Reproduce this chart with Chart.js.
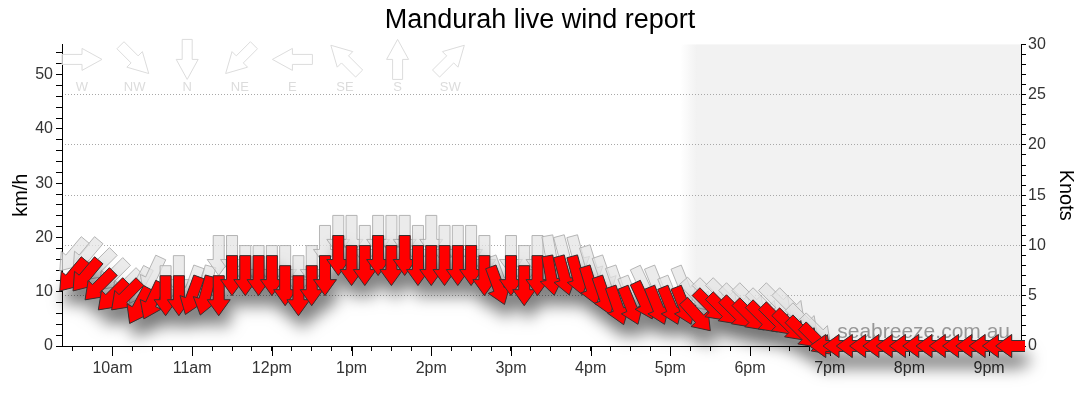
<!DOCTYPE html>
<html lang="en">
<head>
<meta charset="UTF-8">
<title>Mandurah live wind report</title>
<script src="https://cdn.jsdelivr.net/npm/chart.js"></script>
<style>
  html, body { margin: 0; padding: 0; background: #fff; }
  #wrap { width: 1080px; height: 414px; }
</style>
</head>
<body>
<div id="wrap"><canvas id="windChart"></canvas></div>
<script>
// readings every 10 minutes (local time)
const times = [
  '09:30','09:40','09:50','10:00','10:10','10:20','10:30','10:40','10:50','11:00','11:10','11:20',
  '11:30','11:40','11:50','12:00','12:10','12:20','12:30','12:40','12:50','13:00','13:10','13:20',
  '13:30','13:40','13:50','14:00','14:10','14:20','14:30','14:40','14:50','15:00','15:10','15:20',
  '15:30','15:40','15:50','16:00','16:10','16:20','16:30','16:40','16:50','17:00','17:10','17:20',
  '17:30','17:40','17:50','18:00','18:10','18:20','18:30','18:40','18:50','19:00','19:10','19:20',
  '19:30','19:40','19:50','20:00','20:10','20:20','20:30','20:40','20:50','21:00','21:10','21:20'
];
// wind speed, knots
const speeds = [
  7, 7, 6, 5, 5, 4, 4.5, 5, 5, 5, 5, 5,
  7, 7, 7, 7, 6, 5, 6, 7, 9, 8, 8, 9,
  8, 9, 8, 8, 8, 8, 8, 7, 6, 7, 6, 7,
  7, 7, 7, 6, 5, 4, 4, 4.5, 4, 4, 4, 3,
  4, 3.6, 3.3, 3, 2.8, 2.6, 2, 1.3, 0.6, 0, 0, 0,
  0, 0, 0, 0, 0, 0, 0, 0, 0, 0, 0, 0
];
// gusts, knots
const gusts = [
  9, 9, 8, 7, 6, 6, 7, 6, 7, 6, 6, 9,
  9, 8, 8, 8, 8, 7, 8, 10, 11, 11, 10, 11,
  11, 11, 10, 11, 10, 10, 10, 9, 7, 9, 8, 9,
  9, 9, 9, 8, 7, 6, 5, 6, 6, 5, 6, 5,
  5, 5, 4.5, 4.5, 4, 4.5, 4, 2.5, 1.5, 0, 0, 0,
  0, 0, 0, 0, 0, 0, 0, 0, 0, 0, 0, 0
];
// direction the wind comes from, degrees
const directions = [
  40, 40, 45, 45, 45, 28, 25, 0, 0, 20, 15, 0,
  0, 0, 0, 0, 0, 0, 0, 0, 0, 0, 0, 0,
  0, 0, 0, 0, 0, 0, 0, 0, 340, 0, 0, 0,
  350, 345, 345, 343, 341, 341, 338, 335, 338, 338, 338, 318,
  315, 315, 315, 315, 315, 315, 315, 315, 315, 90, 90, 90,
  90, 90, 90, 90, 90, 90, 90, 90, 90, 90, 90, 90
];
const compassLabels = ['W', 'NW', 'N', 'NE', 'E', 'SE', 'S', 'SW'];
const compassBearings = [270, 315, 0, 45, 90, 135, 180, 225];
const viewStart = '09:22';
const viewEnd = '21:24';
const sunset = '17:14';
const KMH_PER_KNOT = 1.852;
const MAX_KNOTS = 30;

function toHours(t) {
  const [h, m] = t.split(':').map(Number);
  return h + m / 60;
}

function hourLabel(v) {
  const h = v % 12 === 0 ? 12 : v % 12;
  return h + (v < 12 ? 'am' : 'pm');
}

const ARROW = { length: 40, shaft: 11, head: 23, headLen: 16 };
const LEGEND_ARROW = { length: 40, shaft: 10, head: 22, headLen: 20 };

// arrow centred on (x, y), pointing where the wind blows to
function arrowPath(ctx, x, y, bearing, g) {
  const a = bearing * Math.PI / 180;
  const h = g.length / 2;
  const pts = [
    [-g.shaft / 2, -h], [g.shaft / 2, -h], [g.shaft / 2, h - g.headLen],
    [g.head / 2, h - g.headLen], [0, h], [-g.head / 2, h - g.headLen],
    [-g.shaft / 2, h - g.headLen]
  ];
  const c = Math.cos(a), s = Math.sin(a);
  ctx.beginPath();
  pts.forEach(([px, py], i) => {
    const rx = x + px * c - py * s;
    const ry = y + px * s + py * c;
    if (i) ctx.lineTo(rx, ry); else ctx.moveTo(rx, ry);
  });
  ctx.closePath();
}

function clipArea(ctx, area) {
  ctx.beginPath();
  ctx.rect(area.left - 8, area.top, area.right - area.left + 12, area.bottom - area.top + 20);
  ctx.clip();
}

const nightShade = {
  id: 'nightShade',
  beforeDraw(chart) {
    const { ctx, chartArea: area } = chart;
    const x = chart.scales.x;
    const s = toHours(sunset);
    const x0 = x.getPixelForValue(s - 0.1);
    const x1 = x.getPixelForValue(s + 0.1);
    const grad = ctx.createLinearGradient(x0, 0, x1, 0);
    grad.addColorStop(0, 'rgba(242,242,242,0)');
    grad.addColorStop(1, 'rgba(242,242,242,1)');
    ctx.save();
    ctx.fillStyle = grad;
    ctx.fillRect(x0, area.top, area.right - x0, area.bottom - area.top);
    ctx.restore();
  }
};

const decorations = {
  id: 'decorations',
  beforeDatasetsDraw(chart) {
    const { ctx, chartArea: area } = chart;
    const x = chart.scales.x;
    ctx.save();
    // longer tick on each hour
    ctx.strokeStyle = '#000';
    ctx.lineWidth = 1;
    x.ticks.forEach(t => {
      if (t.value % 1 !== 0) return;
      const px = Math.round(x.getPixelForValue(t.value)) + 0.5;
      ctx.beginPath();
      ctx.moveTo(px, area.bottom);
      ctx.lineTo(px, area.bottom + 10);
      ctx.stroke();
    });
    // compass key
    ctx.font = '13px "Liberation Sans", Arial, sans-serif';
    ctx.textAlign = 'center';
    ctx.textBaseline = 'middle';
    compassLabels.forEach((lab, i) => {
      const cx = area.left + 20 + i * 52.6;
      arrowPath(ctx, cx, area.top + 15, compassBearings[i], LEGEND_ARROW);
      ctx.fillStyle = 'rgba(255,255,255,0.6)';
      ctx.fill();
      ctx.strokeStyle = '#dcdcdc';
      ctx.stroke();
      ctx.fillStyle = '#dcdcdc';
      ctx.fillText(lab, cx, area.top + 43);
    });
    // watermark
    ctx.font = '21px "Liberation Sans", Arial, sans-serif';
    ctx.textAlign = 'right';
    ctx.textBaseline = 'alphabetic';
    ctx.fillStyle = 'rgba(120,120,120,0.75)';
    ctx.fillText('seabreeze.com.au', area.right - 11, area.bottom - 8);
    ctx.restore();
  }
};

const windArrows = {
  id: 'windArrows',
  afterDatasetsDraw(chart) {
    const { ctx, chartArea: area } = chart;
    const gustPts = chart.getDatasetMeta(0).data;
    const speedPts = chart.getDatasetMeta(1).data;

    ctx.save();
    clipArea(ctx, area);
    ctx.lineWidth = 1;
    gustPts.forEach((pt, i) => {
      arrowPath(ctx, pt.x, pt.y, directions[i], ARROW);
      ctx.fillStyle = 'rgba(228,228,228,0.75)';
      ctx.fill();
      ctx.strokeStyle = 'rgba(170,170,170,0.85)';
      ctx.stroke();
    });
    ctx.restore();

    // one soft shadow under all the speed arrows
    const dpr = chart.currentDevicePixelRatio;
    const off = document.createElement('canvas');
    off.width = chart.canvas.width;
    off.height = chart.canvas.height;
    const octx = off.getContext('2d');
    octx.setTransform(dpr, 0, 0, dpr, 0, 0);
    clipArea(octx, area);
    octx.fillStyle = '#f00';
    speedPts.forEach((pt, i) => {
      arrowPath(octx, pt.x, pt.y, directions[i], ARROW);
      octx.fill();
    });
    ctx.save();
    ctx.setTransform(1, 0, 0, 1, 0, 0);
    ctx.shadowColor = 'rgba(0,0,0,0.55)';
    ctx.shadowBlur = 16 * dpr;
    ctx.shadowOffsetX = 4 * dpr;
    ctx.shadowOffsetY = 14 * dpr;
    ctx.drawImage(off, 0, 0);
    ctx.restore();

    ctx.save();
    clipArea(ctx, area);
    ctx.lineWidth = 1;
    speedPts.forEach((pt, i) => {
      arrowPath(ctx, pt.x, pt.y, directions[i], ARROW);
      ctx.fillStyle = '#ff0000';
      ctx.fill();
      ctx.strokeStyle = '#333';
      ctx.stroke();
    });
    ctx.restore();
  }
};

Chart.defaults.font.family = '"Liberation Sans", Arial, sans-serif';
Chart.defaults.color = '#333';

const ctx = document.getElementById('windChart').getContext('2d');
new Chart(ctx, {
  type: 'line',
  data: {
    datasets: [{
      label: 'Gust',
      data: times.map((t, i) => ({ x: toHours(t), y: gusts[i] })),
      yAxisID: 'kt',
      showLine: false,
      pointRadius: 0
    }, {
      label: 'Wind speed',
      data: times.map((t, i) => ({ x: toHours(t), y: speeds[i] })),
      yAxisID: 'kt',
      showLine: false,
      pointRadius: 0
    }]
  },
  options: {
    responsive: true,
    maintainAspectRatio: false,
    animation: false,
    events: [],
    plugins: {
      legend: { display: false },
      tooltip: { enabled: false },
      title: {
        display: true,
        text: 'Mandurah live wind report',
        color: '#000',
        font: { size: 27, weight: 'normal' },
        padding: { top: 4, bottom: 8 }
      }
    },
    scales: {
      x: {
        type: 'linear',
        min: toHours(viewStart),
        max: toHours(viewEnd),
        afterFit: s => { s.height = 68; },
        grid: { drawOnChartArea: false, tickLength: 5, tickColor: '#000' },
        border: { color: '#000' },
        ticks: {
          stepSize: 0.25,
          includeBounds: false,
          autoSkip: false,
          maxRotation: 0,
          padding: 8,
          font: { size: 16 },
          callback: v => (v % 1 === 0 ? hourLabel(v) : '')
        }
      },
      km: {
        axis: 'y',
        type: 'linear',
        position: 'left',
        min: 0,
        max: MAX_KNOTS * KMH_PER_KNOT,
        afterFit: s => { s.width = 62; },
        grid: { drawOnChartArea: false, tickLength: 6, tickColor: '#000' },
        border: { color: '#000' },
        title: { display: true, text: 'km/h', color: '#000', font: { size: 20 }, padding: { top: 9 } },
        ticks: {
          stepSize: 2,
          includeBounds: false,
          autoSkip: false,
          padding: 3,
          font: { size: 16 },
          callback: v => (v % 10 === 0 ? v : '')
        }
      },
      kt: {
        axis: 'y',
        type: 'linear',
        position: 'right',
        min: 0,
        max: MAX_KNOTS,
        afterFit: s => { s.width = 59; },
        grid: {
          drawOnChartArea: true,
          tickLength: 5,
          tickColor: '#000',
          color: c => (c.tick && c.tick.value % 5 === 0 && c.tick.value > 0 && c.tick.value < MAX_KNOTS ? '#a8a8a8' : 'rgba(0,0,0,0)')
        },
        border: { color: '#000', dash: [1, 2] },
        title: { display: true, text: 'Knots', color: '#000', font: { size: 20 }, padding: { top: 2 } },
        ticks: {
          stepSize: 1,
          autoSkip: false,
          padding: 2,
          font: { size: 16 },
          callback: v => (v % 5 === 0 ? v : '')
        }
      }
    }
  },
  plugins: [nightShade, decorations, windArrows]
});
</script>
</body>
</html>
